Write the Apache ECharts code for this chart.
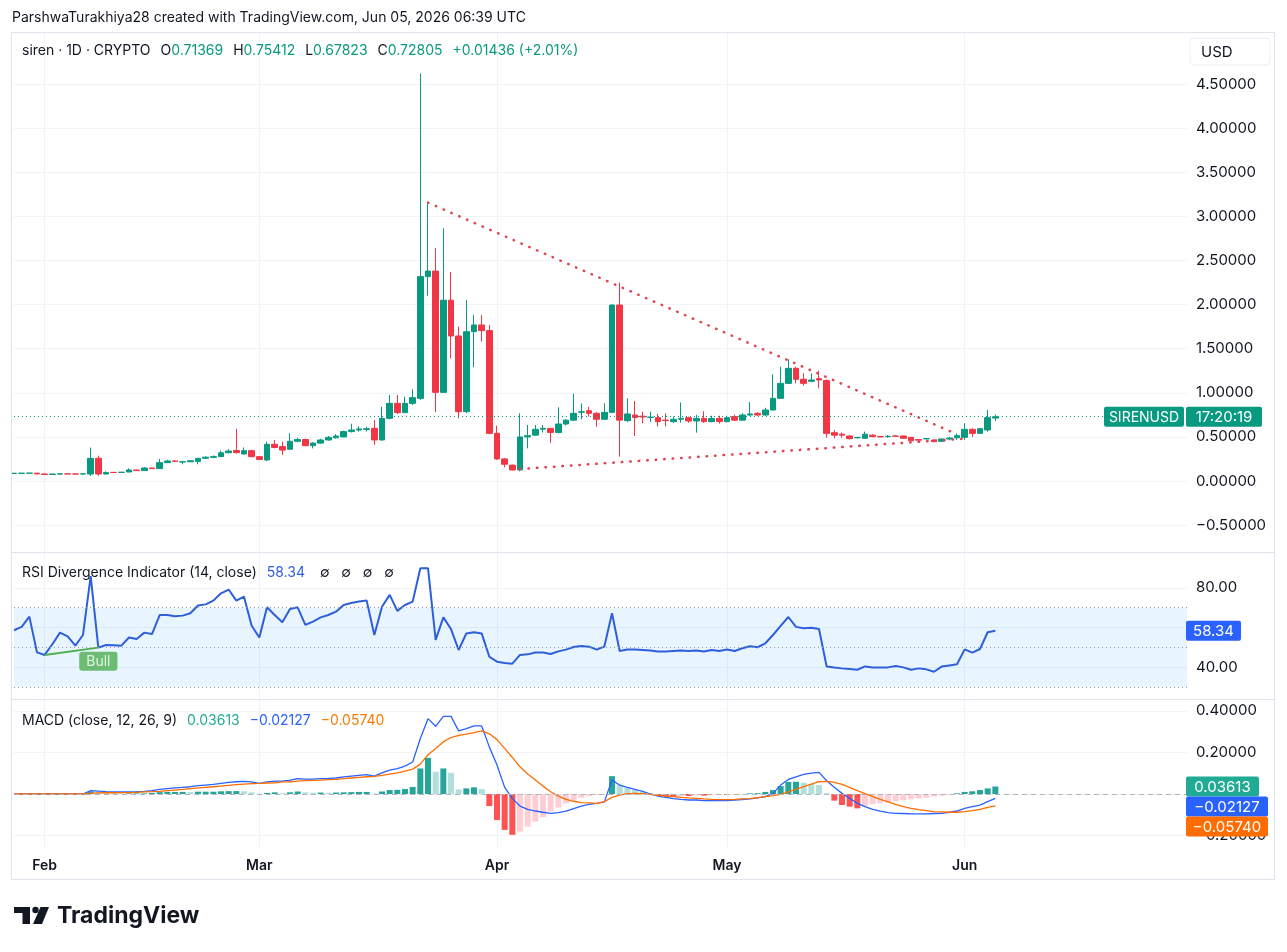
<!DOCTYPE html>
<html><head><meta charset="utf-8">
<script src="https://cdn.jsdelivr.net/npm/echarts@6/dist/echarts.min.js"></script>
<style>html,body{margin:0;padding:0;background:#fff}#c{width:1287px;height:952px}</style>
</head><body><div id="c"></div>
<script>
const FONT = 'Inter, Roboto, "Noto Sans", sans-serif';
const UP = '#089981', DOWN = '#F23645';

// ---- categories (daily, Jan 28 2026 .. Jun 30 2026) ----
const firstDay = [2026, 0, 28];
const dayCount = 154;
const monthNames = { '02': 'Feb', '03': 'Mar', '04': 'Apr', '05': 'May', '06': 'Jun' };
const dates = [];
(function () {
  const d0 = Date.UTC(firstDay[0], firstDay[1], firstDay[2]);
  for (let i = 0; i < dayCount; i++) dates.push(new Date(d0 + i * 86400000).toISOString().slice(0, 10));
})();

// ---- tick values ----
const priceTicks = [-0.5, 0, 0.5, 1, 1.5, 2, 2.5, 3, 3.5, 4, 4.5];
const rsiTicks = [40, 60, 80];
const rsiLabels = [40, 80];
const macdTicks = [-0.2, 0, 0.2, 0.4];
const macdLabels = [-0.2, 0.2, 0.4];

// ---- candles [open, high, low, close] ----
const candles = [
[0.086,0.089,0.084,0.087],[0.087,0.089,0.085,0.088],[0.088,0.091,0.086,0.089],[0.089,0.090,0.078,0.080],
[0.080,0.082,0.070,0.073],[0.073,0.082,0.072,0.079],[0.079,0.083,0.077,0.081],[0.081,0.082,0.078,0.080],
[0.080,0.082,0.077,0.079],[0.079,0.083,0.078,0.081],[0.079,0.378,0.057,0.257],[0.257,0.287,0.060,0.079],
[0.079,0.110,0.075,0.095],[0.098,0.102,0.094,0.096],[0.097,0.104,0.095,0.100],[0.102,0.143,0.100,0.125],
[0.125,0.128,0.115,0.118],[0.118,0.160,0.116,0.147],[0.147,0.150,0.137,0.140],[0.140,0.250,0.138,0.208],
[0.208,0.240,0.205,0.227],[0.227,0.232,0.218,0.222],[0.215,0.228,0.190,0.218],[0.218,0.235,0.215,0.230],
[0.222,0.262,0.190,0.257],[0.257,0.280,0.250,0.270],[0.268,0.290,0.262,0.276],[0.276,0.345,0.272,0.320],
[0.320,0.360,0.315,0.340],[0.345,0.593,0.310,0.322],[0.306,0.380,0.300,0.344],[0.344,0.352,0.270,0.276],
[0.276,0.282,0.240,0.245],[0.238,0.446,0.225,0.416],[0.416,0.465,0.370,0.380],[0.390,0.446,0.295,0.350],
[0.360,0.540,0.355,0.450],[0.450,0.490,0.440,0.470],[0.470,0.480,0.395,0.400],[0.400,0.440,0.370,0.430],
[0.430,0.480,0.420,0.465],[0.465,0.510,0.455,0.495],[0.490,0.530,0.480,0.510],[0.500,0.570,0.495,0.560],
[0.560,0.650,0.550,0.578],[0.578,0.620,0.560,0.590],[0.585,0.615,0.560,0.592],[0.597,0.690,0.410,0.465],
[0.465,0.840,0.460,0.710],[0.710,0.975,0.700,0.880],[0.880,0.975,0.760,0.775],[0.775,0.956,0.770,0.880],
[0.880,1.040,0.860,0.945],[0.937,4.620,0.920,2.317],[2.317,3.156,2.100,2.380],[2.380,2.640,0.780,1.005],
[1.005,2.865,1.000,2.050],[2.050,2.370,1.390,1.644],[1.644,1.750,0.710,0.786],[0.786,2.050,0.770,1.693],
[1.693,1.880,1.290,1.769],[1.769,1.880,1.580,1.705],[1.705,1.770,0.530,0.540],[0.540,0.627,0.240,0.250],
[0.250,0.260,0.155,0.190],[0.180,0.185,0.120,0.125],[0.125,0.767,0.110,0.500],[0.500,0.635,0.370,0.514],
[0.520,0.635,0.510,0.586],[0.588,0.635,0.550,0.597],[0.597,0.600,0.430,0.550],[0.550,0.835,0.540,0.646],
[0.646,0.700,0.630,0.690],[0.690,0.990,0.680,0.767],[0.780,0.880,0.700,0.786],[0.797,0.840,0.730,0.767],
[0.767,0.780,0.616,0.700],[0.700,0.880,0.690,0.778],[0.778,2.000,0.770,1.995],[1.995,2.250,0.276,0.690],
[0.684,0.937,0.670,0.760],[0.748,0.907,0.510,0.720],[0.735,0.786,0.654,0.725],[0.720,0.786,0.670,0.725],
[0.718,0.760,0.620,0.673],[0.690,0.767,0.620,0.685],[0.673,0.730,0.660,0.700],[0.700,0.890,0.660,0.710],
[0.718,0.730,0.660,0.680],[0.680,0.750,0.548,0.710],[0.710,0.790,0.660,0.673],[0.673,0.740,0.665,0.710],
[0.710,0.740,0.650,0.673],[0.673,0.740,0.665,0.718],[0.730,0.750,0.680,0.690],[0.690,0.770,0.685,0.748],
[0.748,0.896,0.740,0.760],[0.767,0.780,0.740,0.748],[0.748,0.830,0.740,0.805],[0.805,1.210,0.800,0.937],
[0.937,1.296,0.930,1.107],[1.107,1.380,1.100,1.277],[1.277,1.296,1.107,1.153],[1.153,1.220,1.080,1.107],
[1.130,1.220,1.120,1.145],[1.160,1.250,1.050,1.145],[1.140,1.150,0.490,0.540],[0.548,0.578,0.484,0.520],
[0.530,0.550,0.490,0.520],[0.510,0.520,0.470,0.480],[0.490,0.500,0.480,0.495],[0.484,0.560,0.480,0.530],
[0.520,0.530,0.495,0.503],[0.505,0.510,0.495,0.500],[0.503,0.520,0.490,0.507],[0.510,0.515,0.500,0.507],
[0.510,0.515,0.480,0.484],[0.495,0.500,0.446,0.457],[0.470,0.475,0.440,0.463],[0.478,0.485,0.470,0.480],
[0.465,0.470,0.440,0.446],[0.450,0.480,0.445,0.476],[0.476,0.500,0.460,0.487],[0.490,0.540,0.465,0.514],
[0.495,0.654,0.465,0.586],[0.586,0.597,0.500,0.540],[0.540,0.600,0.535,0.593],[0.578,0.805,0.559,0.718],
[0.71369,0.75412,0.67823,0.72805]
];

// ---- trend lines [categoryIndex, price] ----
const upperTrend = [[54, 3.156], [123, 0.53]];
const lowerTrend = [[66, 0.136], [124, 0.48]];

// ---- RSI ----
const rsi = [
58.6,60.3,65.5,47.4,46.1,51.5,57.4,55.5,50.8,56.2,86.0,49.8,51.1,51.0,50.8,54.9,54.2,57.4,56.7,66.3,
66.3,65.7,66.0,67.2,71.1,71.7,73.6,77.3,79.2,73.6,75.6,60.9,54.9,70.2,66.3,62.6,69.4,70.2,61.3,63.0,
65.1,66.3,68.0,71.4,72.4,73.1,73.6,56.2,70.5,76.5,68.4,71.4,73.1,90.0,90.0,53.7,65.1,59.2,48.6,57.0,
57.6,57.0,45.2,42.7,42.0,41.7,46.1,46.4,47.3,47.3,46.6,47.9,48.8,50.1,50.6,50.3,48.8,50.3,67.2,48.1,
48.9,48.8,48.6,48.4,47.8,47.8,48.1,48.4,48.1,48.4,47.8,48.6,48.1,48.9,48.1,49.5,50.5,50.0,52.0,56.2,
60.8,65.3,60.3,59.6,59.9,59.2,40.2,39.7,39.3,39.0,38.6,40.3,39.8,39.8,39.8,40.5,39.8,38.6,39.3,38.8,
37.6,40.2,40.8,41.4,48.9,47.3,49.1,57.6,58.34
];
const bullFrom = 4, bullTo = 11;

// ---- MACD ----
const macd = [
0,0,0,0,0,0,0,0,0,0,0.016,0.014,0.011,0.010,0.010,0.010,0.011,0.013,0.016,0.022,
0.026,0.029,0.032,0.035,0.040,0.043,0.046,0.051,0.056,0.059,0.061,0.058,0.051,0.058,0.062,0.062,0.067,0.074,0.072,0.072,
0.074,0.075,0.077,0.082,0.086,0.090,0.093,0.086,0.102,0.115,0.122,0.134,0.154,0.267,0.363,0.326,0.374,0.374,0.304,0.315,
0.328,0.328,0.227,0.140,0.032,-0.021,-0.058,-0.074,-0.082,-0.088,-0.093,-0.090,-0.082,-0.070,-0.058,-0.050,-0.045,-0.038,0.067,0.043,
0.032,0.022,0.013,0.000,-0.010,-0.016,-0.022,-0.026,-0.029,-0.029,-0.032,-0.032,-0.032,-0.032,-0.030,-0.027,-0.024,-0.019,-0.013,0.003,
0.043,0.070,0.083,0.094,0.101,0.104,0.064,0.032,0.003,-0.021,-0.045,-0.061,-0.074,-0.083,-0.090,-0.093,-0.094,-0.096,-0.096,-0.096,
-0.094,-0.093,-0.088,-0.082,-0.069,-0.061,-0.054,-0.037,-0.02127
];
const signal = [
0,0,0,0,0,0,0,0,0,0,0.003,0.005,0.006,0.006,0.007,0.007,0.008,0.010,0.011,0.013,
0.016,0.019,0.022,0.026,0.029,0.032,0.035,0.038,0.042,0.045,0.048,0.050,0.051,0.053,0.054,0.058,0.059,0.062,0.064,0.066,
0.067,0.069,0.070,0.074,0.077,0.080,0.083,0.085,0.090,0.096,0.102,0.110,0.120,0.144,0.189,0.219,0.251,0.272,0.282,0.288,
0.296,0.304,0.290,0.262,0.220,0.176,0.131,0.096,0.067,0.038,0.011,-0.010,-0.026,-0.035,-0.042,-0.043,-0.045,-0.037,-0.016,-0.005,
0.002,0.003,0.002,-0.002,-0.006,-0.010,-0.013,-0.016,-0.019,-0.021,-0.024,-0.026,-0.027,-0.027,-0.026,-0.024,-0.022,-0.018,-0.013,-0.008,
-0.002,0.010,0.022,0.035,0.048,0.059,0.061,0.056,0.046,0.032,0.016,0.002,-0.013,-0.026,-0.038,-0.050,-0.061,-0.069,-0.075,-0.080,
-0.085,-0.086,-0.088,-0.088,-0.085,-0.080,-0.074,-0.064,-0.0574
];
const hist = [
0,0,0,0,0,0,0,0,0,0,0.012,0.009,0.005,0.004,0.003,0.003,0.003,0.003,0.005,0.009,
0.010,0.010,0.010,0.009,0.011,0.011,0.011,0.013,0.014,0.014,0.013,0.008,0.001,0.005,0.008,0.004,0.008,0.012,0.008,0.006,
0.007,0.006,0.007,0.008,0.009,0.010,0.010,0.002,0.012,0.019,0.020,0.024,0.034,0.123,0.174,0.107,0.123,0.102,0.022,0.027,
0.032,0.024,-0.058,-0.125,-0.173,-0.197,-0.181,-0.157,-0.133,-0.112,-0.085,-0.065,-0.045,-0.030,-0.018,-0.010,-0.005,-0.002,0.086,0.045,
0.030,0.019,0.011,0.002,-0.006,-0.012,-0.013,-0.010,-0.010,-0.008,-0.008,-0.006,-0.005,-0.005,-0.004,-0.003,0.003,0.004,0.010,0.019,
0.038,0.058,0.059,0.054,0.048,0.043,0.003,-0.032,-0.053,-0.061,-0.069,-0.058,-0.048,-0.045,-0.040,-0.035,-0.030,-0.026,-0.022,-0.018,
-0.012,-0.008,-0.004,0.003,0.010,0.013,0.019,0.027,0.03613
];

// ---- texts ----
const headerText = 'ParshwaTurakhiya28 created with TradingView.com, Jun 05, 2026 06:39 UTC';
const symbolText = 'siren · 1D · CRYPTO';
const changeText = '+0.01436 (+2.01%)';
const rsiTitle = 'RSI Divergence Indicator (14, close)';
const macdTitle = 'MACD (close, 12, 26, 9)';
const tickerTag = 'SIRENUSD';
const countdownText = '17:20:19';

const last = candles[candles.length - 1];
const fmt5 = v => (v < 0 ? '\u2212' : '') + Math.abs(v).toFixed(5);
const fmt2 = v => v.toFixed(2);
const isMonthStart = (i, v) => v.slice(8) === '01';

function histColor(i) {
  const v = hist[i], p = i > 0 ? hist[i - 1] : 0;
  if (v >= 0) return v >= p ? '#26A69A' : '#B2DFDB';
  return v <= p ? '#FF5252' : '#FFCDD2';
}

const grids = [
  { left: 14, right: 100, top: 33, height: 519 },
  { left: 14, right: 100, top: 553, height: 146 },
  { left: 14, right: 100, top: 701, height: 148 }
];

const xAxes = [0, 1, 2].map(g => ({
  gridIndex: g, type: 'category', data: dates, boundaryGap: false,
  axisLine: { show: false }, axisTick: { show: false },
  axisLabel: { show: g === 2, interval: isMonthStart, formatter: v => monthNames[v.slice(5, 7)],
    color: '#131722', fontSize: 14, fontWeight: 600, fontFamily: FONT, margin: 10 },
  splitLine: { show: true, interval: isMonthStart, lineStyle: { color: '#f0f3fa', width: 1 } }
}));

const axLabel = { color: '#131722', fontSize: 15, fontFamily: FONT, margin: 9 };
const yAxes = [
  { gridIndex: 0, type: 'value', position: 'right', min: -0.805, max: 5.079,
    axisLine: { show: false }, axisTick: { show: false, customValues: priceTicks },
    axisLabel: Object.assign({ customValues: priceTicks, formatter: fmt5 }, axLabel),
    splitLine: { show: true, lineStyle: { color: '#f0f3fa' } } },
  { gridIndex: 1, type: 'value', position: 'right', min: 23.8, max: 97.7,
    axisLine: { show: false }, axisTick: { show: false, customValues: rsiTicks },
    axisLabel: Object.assign({ customValues: rsiLabels, formatter: fmt2 }, axLabel),
    splitLine: { show: true, lineStyle: { color: '#f0f3fa' } } },
  { gridIndex: 2, type: 'value', position: 'right', min: -0.265, max: 0.448,
    axisLine: { show: false }, axisTick: { show: false, customValues: macdTicks },
    axisLabel: Object.assign({ customValues: macdLabels, formatter: fmt5 }, axLabel),
    splitLine: { show: true, lineStyle: { color: '#f0f3fa' } } }
];

const dotted = { type: [1, 3], width: 1 };
const series = [
  { type: 'candlestick', xAxisIndex: 0, yAxisIndex: 0, barWidth: 6,
    data: candles.map(c => [c[0], c[3], c[2], c[1]]),
    itemStyle: { color: UP, color0: DOWN, borderColor: UP, borderColor0: DOWN, borderWidth: 1 },
    markLine: { silent: true, symbol: 'none', label: { show: false },
      lineStyle: Object.assign({ color: UP }, dotted), data: [{ yAxis: last[3] }] } },
  { type: 'line', xAxisIndex: 0, yAxisIndex: 0, data: upperTrend, symbol: 'none', silent: true,
    lineStyle: { color: '#E0424E', width: 2.5, type: [0.5, 8], cap: 'round' } },
  { type: 'line', xAxisIndex: 0, yAxisIndex: 0, data: lowerTrend, symbol: 'none', silent: true,
    lineStyle: { color: '#E0424E', width: 2.5, type: [0.5, 8], cap: 'round' } },
  { type: 'line', xAxisIndex: 1, yAxisIndex: 1, data: rsi, symbol: 'none', silent: true,
    lineStyle: { color: '#2E5FDB', width: 2 },
    markArea: { silent: true, itemStyle: { color: 'rgba(33,150,243,0.10)' }, data: [[{ yAxis: 30 }, { yAxis: 70 }]] },
    markLine: { silent: true, symbol: 'none', label: { show: false },
      lineStyle: Object.assign({ color: '#9598a1' }, dotted), data: [{ yAxis: 70 }, { yAxis: 50 }, { yAxis: 30 }] } },
  { type: 'line', xAxisIndex: 1, yAxisIndex: 1, symbol: 'none', silent: true,
    data: [[bullFrom, rsi[bullFrom]], [bullTo, rsi[bullTo]]], lineStyle: { color: '#4CAF50', width: 2 } },
  { type: 'scatter', xAxisIndex: 1, yAxisIndex: 1, silent: true, symbolSize: 0.1,
    itemStyle: { color: 'rgba(0,0,0,0)' },
    data: [[bullTo, rsi[bullTo]]],
    label: { show: true, formatter: 'Bull', position: 'bottom', distance: 4, backgroundColor: '#4CAF50',
      color: '#fff', padding: [3, 7, 2, 7], borderRadius: 3, fontSize: 14, fontFamily: FONT } },
  { type: 'bar', xAxisIndex: 2, yAxisIndex: 2, barWidth: 6, silent: true,
    data: hist.map((v, i) => ({ value: v, itemStyle: { color: histColor(i) } })),
    markLine: { silent: true, symbol: 'none', label: { show: false },
      lineStyle: { color: '#b2b5be', type: [5, 4], width: 1 }, data: [{ yAxis: 0 }] } },
  { type: 'line', xAxisIndex: 2, yAxisIndex: 2, data: macd, symbol: 'none', silent: true,
    lineStyle: { color: '#2962FF', width: 1.3 } },
  { type: 'line', xAxisIndex: 2, yAxisIndex: 2, data: signal, symbol: 'none', silent: true,
    lineStyle: { color: '#FF6D00', width: 1.3 } }
];

function rs(color, size) {
  return { color: color, fontSize: size || 14, fontFamily: FONT, fontWeight: 'normal', lineHeight: 18 };
}
const titles = [
  { left: 12, top: 11, padding: 0, text: headerText,
    textStyle: { fontFamily: FONT, fontSize: 14, fontWeight: 'normal', color: '#131722' } },
  { left: 22, top: 42, padding: 0,
    text: '{d|' + symbolText + '}  {d|O}{g|' + last[0] + '}  {d|H}{g|' + last[1] + '}  {d|L}{g|' + last[2] +
      '}  {d|C}{g|' + last[3] + '}  {g|' + changeText + '}',
    textStyle: { fontWeight: 'normal', rich: { d: rs('#131722'), g: rs(UP) } } },
  { left: 22, top: 564, padding: 0,
    text: '{d|' + rsiTitle + '}  {b|' + fmt2(rsi[rsi.length - 1]) + '}   {s|\u2205   \u2205   \u2205   \u2205}',
    textStyle: { fontWeight: 'normal', rich: { d: rs('#131722'), b: rs('#2E5FDB'), s: rs('#131722', 14) } } },
  { left: 22, top: 712, padding: 0,
    text: '{d|' + macdTitle + '}  {t|' + hist[hist.length - 1].toFixed(5) + '}  {b|' + fmt5(macd[macd.length - 1]) +
      '}  {o|' + fmt5(signal[signal.length - 1]) + '}',
    textStyle: { fontWeight: 'normal', rich: { d: rs('#131722'), t: rs('#22AB94'), b: rs('#2962FF'), o: rs('#F57C00') } } }
];

const chart = echarts.init(document.getElementById('c'), null, { renderer: 'canvas' });
chart.setOption({
  animation: false, backgroundColor: '#fff',
  title: titles, grid: grids, xAxis: xAxes, yAxis: yAxes, series: series
});

// ---- tags & decorations ----
const py = (axis, v) => chart.convertToPixel({ yAxisIndex: axis }, v);
function tag(x, yc, w, text, bg, size) {
  return [
    { type: 'rect', z: 100, shape: { x: x, y: yc - 10, width: w, height: 20, r: 2 }, style: { fill: bg } },
    { type: 'text', z: 101, x: x + w / 2, y: yc + 1, style: { text: text, fill: '#fff', fontSize: size || 15, fontFamily: FONT,
      align: 'center', verticalAlign: 'middle' } }
  ];
}
const yPrice = py(0, last[3]);
const yRsi = py(1, rsi[rsi.length - 1]);
const yHist = py(2, hist[hist.length - 1]);
const yMacd = Math.max(py(2, macd[macd.length - 1]), yHist + 20);
const ySig = Math.max(py(2, signal[signal.length - 1]), yMacd + 20);

const g = [];
g.push({ type: 'rect', z: 90, shape: { x: 11.5, y: 32.5, width: 1263, height: 847 }, style: { fill: null, stroke: '#e0e3eb', lineWidth: 1 } });
g.push({ type: 'line', z: 90, shape: { x1: 11.5, y1: 552.5, x2: 1274.5, y2: 552.5 }, style: { stroke: '#e0e3eb', lineWidth: 1 } });
g.push({ type: 'line', z: 90, shape: { x1: 11.5, y1: 699.5, x2: 1274.5, y2: 699.5 }, style: { stroke: '#e0e3eb', lineWidth: 1 } });
g.push({ type: 'rect', z: 100, shape: { x: 1190, y: 38, width: 80, height: 27, r: 4 }, style: { fill: '#fff', stroke: '#eceef2', lineWidth: 1 } });
g.push({ type: 'text', z: 101, x: 1201, y: 52, style: { text: 'USD', fill: '#131722', fontSize: 15, fontFamily: FONT, verticalAlign: 'middle' } });
g.push.apply(g, tag(1104, yPrice, 80, tickerTag, UP, 14));
g.push.apply(g, tag(1186, yPrice, 76, countdownText, UP, 15));
g.push.apply(g, tag(1186, yRsi, 55, fmt2(rsi[rsi.length - 1]), '#2962FF'));
g.push.apply(g, tag(1186, yHist, 73, hist[hist.length - 1].toFixed(5), '#22AB94'));
g.push.apply(g, tag(1186, yMacd, 82, fmt5(macd[macd.length - 1]), '#2962FF'));
g.push.apply(g, tag(1186, ySig, 82, fmt5(signal[signal.length - 1]), '#FF6D00'));
g.push({ type: 'polygon', z: 100, shape: { points: [[14, 907], [30, 907], [30, 924], [22.5, 924], [22.5, 913], [14, 913]] }, style: { fill: '#131722' } });
g.push({ type: 'circle', z: 100, shape: { cx: 35.5, cy: 910, r: 3.2 }, style: { fill: '#131722' } });
g.push({ type: 'polygon', z: 100, shape: { points: [[33, 924], [40.5, 907], [49, 907], [42, 924]] }, style: { fill: '#131722' } });
g.push({ type: 'text', z: 100, x: 57, y: 916, style: { text: 'TradingView', fill: '#131722', fontSize: 23, fontWeight: 700,
  fontFamily: FONT, verticalAlign: 'middle' } });

chart.setOption({ graphic: g });
</script></body></html>
